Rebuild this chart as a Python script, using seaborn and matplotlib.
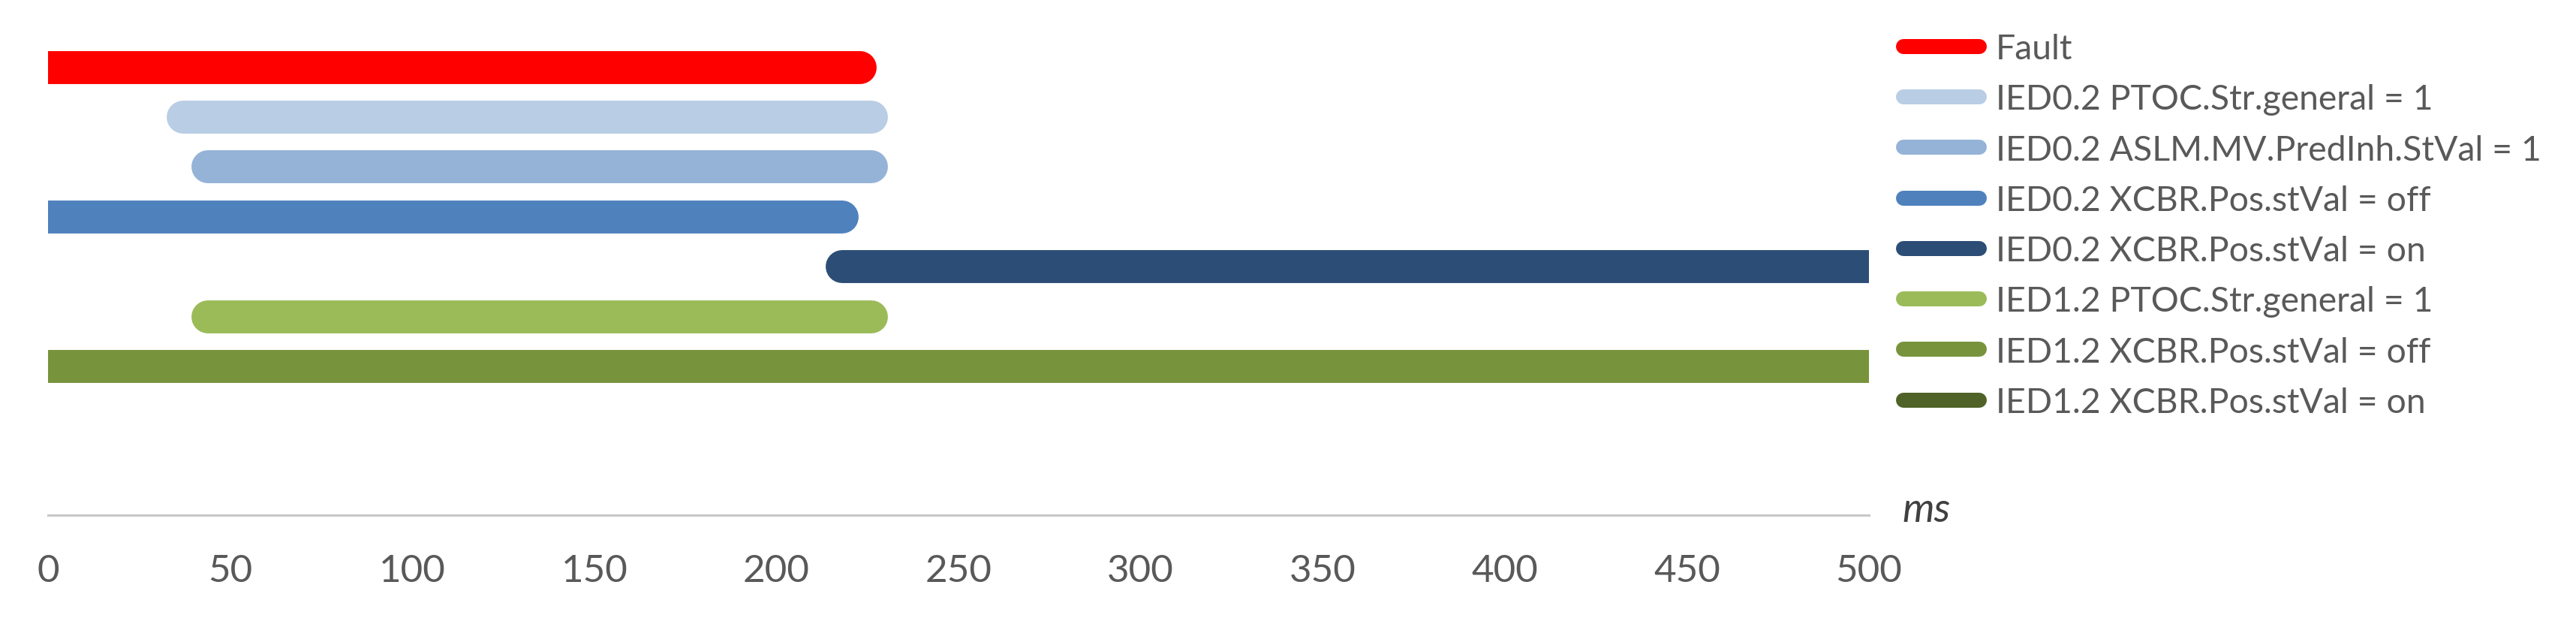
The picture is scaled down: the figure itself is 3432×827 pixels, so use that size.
import matplotlib
matplotlib.use("Agg")
import matplotlib.pyplot as plt
from matplotlib.lines import Line2D
import numpy as np
import pandas as pd
import seaborn as sns

# Signal timeline (ms); NaN = not active inside the window
series = [
    "Fault",
    "IED0.2 PTOC.Str.general = 1",
    "IED0.2 ASLM.MV.PredInh.StVal = 1",
    "IED0.2 XCBR.Pos.stVal = off",
    "IED0.2 XCBR.Pos.stVal = on",
    "IED1.2 PTOC.Str.general = 1",
    "IED1.2 XCBR.Pos.stVal = off",
    "IED1.2 XCBR.Pos.stVal = on",
]
start_ms = [0, 37, 44, 0, 218, 44, 0, np.nan]
end_ms = [223, 226, 226, 218, 510, 226, 510, np.nan]
colors = ["#FF0000", "#B9CDE5", "#95B3D7", "#4F81BD",
          "#2C4D75", "#9BBB59", "#77933C", "#4F6228"]
x_ticks = [0, 50, 100, 150, 200, 250, 300, 350, 400, 450, 500]

sns.set_style("white")
plt.rcParams["font.family"] = ["Lato", "DejaVu Sans"]

# long table: one segment per signal
rows = []
for i, (name, s, e) in enumerate(zip(series, start_ms, end_ms)):
    if np.isnan(s):
        continue
    rows.append({"series": name, "t": s, "row": i})
    rows.append({"series": name, "t": e, "row": i})
df = pd.DataFrame(rows)
palette = dict(zip(series, colors))

W, H = 3432, 828
fig = plt.figure(figsize=(W / 200, H / 200), dpi=200)
ax = fig.add_axes([64 / W, 1 - 687 / H, (2490 - 64) / W, 687 / H])

sns.lineplot(data=df, x="t", y="row", hue="series", palette=palette,
             estimator=None, sort=False, linewidth=15.8,
             solid_capstyle="round", legend=False, ax=ax)

ax.set_xlim(0, 500)
ax.set_ylim(8.98, -1.363)
ax.set_xticks(x_ticks)
ax.set_yticks([])
ax.set_xlabel("")
ax.set_ylabel("")
for side in ["left", "right", "top"]:
    ax.spines[side].set_visible(False)
ax.spines["bottom"].set_color("#C8C8C8")
ax.spines["bottom"].set_linewidth(1.1)
ax.tick_params(axis="x", direction="out", length=7.2, width=0.7,
               color="#C0C0C0", pad=11.3, labelsize=18.4, labelcolor="#595959")

ax.text(1.0185, -0.012, "ms", transform=ax.transAxes, fontsize=19.5,
        style="italic", color="#404040", va="baseline", ha="left")

handles = [Line2D([], [], color=c, linewidth=7.2, solid_capstyle="round")
           for c in colors]
fig.legend(handles, series, loc="upper left",
           bbox_to_anchor=(2536 / W, 1 - 45 / H), frameon=False,
           fontsize=16.7, handlelength=2.17, handletextpad=0.48,
           labelspacing=0.545, borderpad=0, borderaxespad=0,
           labelcolor="#595959")

fig.savefig("out.png", dpi=200)
